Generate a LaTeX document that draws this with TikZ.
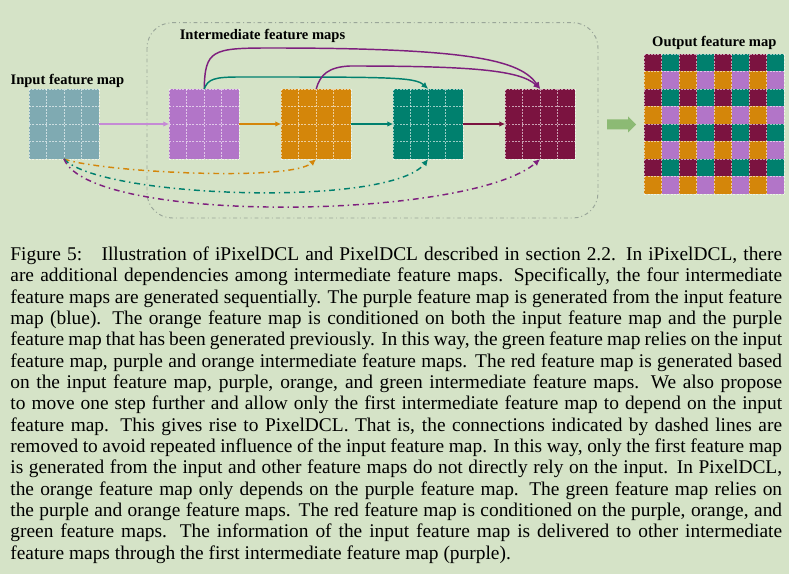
\documentclass[tikz,border=0pt]{standalone}
\usepackage{fontspec}
\setmainfont{Liberation Serif}
\usetikzlibrary{positioning,calc,arrows.meta}

\definecolor{fundo}{HTML}{D5E3C7}
\definecolor{azulado}{HTML}{7FAAB2}
\definecolor{roxo}{HTML}{B275C8}
\definecolor{laranja}{HTML}{D4860A}
\definecolor{verde}{HTML}{00806E}
\definecolor{vinho}{HTML}{7B1340}
\definecolor{roxoesc}{HTML}{7E1F7E}
\definecolor{lilas}{HTML}{C58AD5}
\definecolor{setaverde}{HTML}{8CBA74}
\definecolor{cinzamold}{HTML}{9AA699}

\tikzset{
  mapa/.style={minimum size=36.085pt, inner sep=0pt, outer sep=0pt},
  grade/.style={white, opacity=0.6, line width=0.45pt, dash pattern=on 1pt off 0.7pt},
  rotulo/.style={font=\fontsize{7.5pt}{9pt}\selectfont\bfseries, inner sep=0pt},
  liga/.style={line width=0.6pt, -{Latex[length=3pt,width=2.8pt]}},
  curva/.style={line width=0.75pt, -{Latex[length=3.5pt,width=3.2pt]}},
  tracos/.style={curva, dash pattern=on 3pt off 2pt on 0.75pt off 2pt},
}

\begin{document}
\begin{tikzpicture}[x=0.5155pt, y=0.5155pt]

		% Fundo
		\fill[fundo] (0,0) rectangle (789,-574);
		\useasboundingbox (0,0) rectangle (789,-574);

		% Moldura dos mapas intermediarios
		\draw[cinzamold, line width=0.5pt, dash pattern=on 2pt off 1.5pt on 0.5pt off 1.5pt,
		      rounded corners=13pt] (147,-22.7) rectangle (598,-218);
		\node[rotulo, anchor=base] (tmid) at (262.5,-40) {Intermediate feature maps};

		% Mapa de entrada e mapas intermediarios
		\node[mapa, fill=azulado] (input) at (64,-124) {};
		\node[mapa, fill=roxo, right=36.2pt of input] (m1) {};
		\node[mapa, fill=laranja, right=21.65pt of m1] (m2) {};
		\node[mapa, fill=verde, right=21.65pt of m2] (m3) {};
		\node[mapa, fill=vinho, right=21.65pt of m3] (m4) {};
		\node[rotulo, anchor=base] (tin) at ([shift={(3.5,4)}]input.north) {Input feature map};

		% Mapa de saida
		\node[mapa, minimum size=72.17pt, right=35.6pt of m4] (saida) {};
		\foreach \r in {0,...,7}
		  \foreach \c in {0,...,7}{
		    \pgfmathtruncatemacro\k{2*mod(\r,2)+mod(\c,2)}
		    \edef\cor{\ifcase\k vinho\or verde\or laranja\or roxo\fi}
		    \fill[\cor] ([shift={(17.5*\c,-17.5*\r)}]saida.north west) rectangle ++(17.5,-17.5);
		  }
		\node[rotulo, anchor=base] (tout) at ([yshift=4]saida.north) {Output feature map};

		% Grades
		\foreach \m in {input,m1,m2,m3,m4}
		  \foreach \i in {0,...,4}{
		    \draw[grade] ($(\m.north west)!\i/4!(\m.north east)$) -- ($(\m.south west)!\i/4!(\m.south east)$);
		    \draw[grade] ($(\m.north west)!\i/4!(\m.south west)$) -- ($(\m.north east)!\i/4!(\m.south east)$);
		  }
		\foreach \i in {0,...,8}{
		  \draw[grade] ($(saida.north west)!\i/8!(saida.north east)$) -- ($(saida.south west)!\i/8!(saida.south east)$);
		  \draw[grade] ($(saida.north west)!\i/8!(saida.south west)$) -- ($(saida.north east)!\i/8!(saida.south east)$);
		}

		% Ligacoes diretas
		\draw[liga, lilas] (input) -- (m1);
		\draw[liga, laranja] (m1) -- (m2);
		\draw[liga, verde] (m2) -- (m3);
		\draw[liga, vinho] (m3) -- (m4);

		% Ligacoes por cima
		\draw[curva, roxoesc] (m1.north) .. controls (205,-50) and (212,-48) .. (270,-48)
		  .. controls (470,-48) and (520,-60) .. (m4.north);
		\draw[curva, verde] (m1.north) .. controls (208,-79) and (214,-77) .. (240,-77)
		  .. controls (390,-77) and (415,-77) .. (m3.north);
		\draw[curva, roxoesc] (m2.north) .. controls (320,-75) and (328,-67) .. (350,-66)
		  .. controls (470,-66) and (520,-70) .. (m4.north);

		% Ligacoes tracejadas a partir da entrada
		\draw[tracos, laranja] (input.south) .. controls (100,-172) and (290,-182) .. (m2.south);
		\draw[tracos, verde] (input.south) .. controls (100,-198) and (390,-208) .. (m3.south);
		\draw[tracos, roxoesc] (input.south) .. controls (90,-225) and (470,-220) .. (m4.south);

		% Seta grossa
		\fill[setaverde] (607,-119.5) -- (628,-119.5) -- (628,-116.5) -- (636,-124.5)
		  -- (628,-132.5) -- (628,-129.5) -- (607,-129.5) -- cycle;

		% Legenda
		\node[anchor=north west, text width=397.8pt, align=justify, inner sep=0pt,
		      font=\fontsize{10pt}{11pt}\selectfont] (legenda) at (10,-246.5) {\hyphenpenalty=10000
		Figure 5:\hspace{1em}Illustration of iPixelDCL and PixelDCL described in section 2.2.  In iPixelDCL, there\linebreak
		are additional dependencies among intermediate feature maps.  Specifically, the four intermediate\linebreak
		feature maps are generated sequentially. The purple feature map is generated from the input feature\linebreak
		map (blue).  The orange feature map is conditioned on both the input feature map and the purple\linebreak
		feature map that has been generated previously. In this way, the green feature map relies on the input\linebreak
		feature map, purple and orange intermediate feature maps. The red feature map is generated based\linebreak
		on the input feature map, purple, orange, and green intermediate feature maps.  We also propose\linebreak
		to move one step further and allow only the first intermediate feature map to depend on the input\linebreak
		feature map.  This gives rise to PixelDCL. That is, the connections indicated by dashed lines are\linebreak
		removed to avoid repeated influence of the input feature map. In this way, only the first feature map\linebreak
		is generated from the input and other feature maps do not directly rely on the input. In PixelDCL,\linebreak
		the orange feature map only depends on the purple feature map.  The green feature map relies on\linebreak
		the purple and orange feature maps. The red feature map is conditioned on the purple, orange, and\linebreak
		green feature maps.  The information of the input feature map is delivered to other intermediate\linebreak
		feature maps through the first intermediate feature map (purple).};

\end{tikzpicture}
\end{document}
